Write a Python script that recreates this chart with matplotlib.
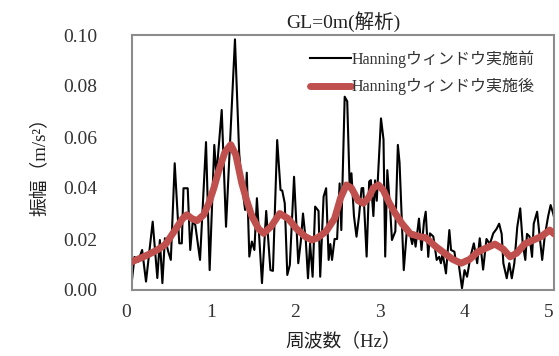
import matplotlib
matplotlib.use("Agg")
import matplotlib.pyplot as plt
import matplotlib.transforms as mtransforms

plt.rcParams['font.family'] = ['Liberation Serif', 'Noto Sans CJK JP']

# Spectrum before windowing (frequency in Hz, amplitude in m/s^2)
freq_raw = [0.00, 0.03, 0.07, 0.12, 0.166, 0.245, 0.30, 0.33, 0.36, 0.39,
            0.43, 0.46, 0.506, 0.56, 0.59, 0.61, 0.66, 0.69, 0.72, 0.75,
            0.806, 0.877, 0.92, 0.975, 1.00, 1.063, 1.114, 1.22, 1.27, 1.30,
            1.34, 1.36, 1.39, 1.42, 1.45, 1.48, 1.54, 1.59, 1.64, 1.67,
            1.72, 1.76, 1.78, 1.81, 1.84, 1.87, 1.92, 1.97, 2.00, 2.026,
            2.06, 2.085, 2.11, 2.14, 2.17, 2.21, 2.23, 2.27, 2.30, 2.33,
            2.35, 2.37, 2.40, 2.43, 2.46, 2.48, 2.52, 2.55, 2.58, 2.60,
            2.63, 2.66, 2.69, 2.72, 2.74, 2.78, 2.81, 2.83, 2.86, 2.88,
            2.90, 2.95, 2.98, 3.00, 3.025, 3.06, 3.08, 3.12, 3.15, 3.17,
            3.22, 3.26, 3.28, 3.32, 3.34, 3.36, 3.40, 3.43, 3.46, 3.48,
            3.51, 3.53, 3.57, 3.61, 3.64, 3.66, 3.68, 3.72, 3.76, 3.78,
            3.82, 3.84, 3.87, 3.91, 3.94, 3.97, 4.01, 4.05, 4.09, 4.12,
            4.16, 4.20, 4.22, 4.24, 4.28, 4.32, 4.35, 4.38, 4.40, 4.44,
            4.47, 4.50, 4.53, 4.565, 4.60, 4.63, 4.66, 4.68, 4.71, 4.74,
            4.76, 4.80, 4.83, 4.86, 4.89, 4.93, 4.96, 4.99, 5.02]
amp_raw = [0.004, 0.013, 0.011, 0.0157, 0.0033, 0.0268, 0.0047, 0.0196, 0.0027, 0.0203,
           0.015, 0.0118, 0.0497, 0.0183, 0.0183, 0.0399, 0.0399, 0.0157, 0.027, 0.0255,
           0.0118, 0.058, 0.0078, 0.0569, 0.045, 0.0706, 0.0248, 0.0983, 0.0536, 0.042,
           0.0314, 0.046, 0.0131, 0.019, 0.0157, 0.036, 0.0027, 0.031, 0.0078, 0.0075,
           0.0588, 0.0392, 0.039, 0.034, 0.0059, 0.0098, 0.0444, 0.0105, 0.019, 0.030,
           0.019, 0.0046, 0.0183, 0.0052, 0.0327, 0.031, 0.0052, 0.0366, 0.0399, 0.0118,
           0.018, 0.0118, 0.020, 0.020, 0.0418, 0.0235, 0.0758, 0.074, 0.0392, 0.0458,
           0.029, 0.0209, 0.029, 0.0399, 0.040, 0.0131, 0.0425, 0.0431, 0.029, 0.043,
           0.035, 0.0673, 0.059, 0.0131, 0.047, 0.031, 0.0196, 0.023, 0.0569, 0.050,
           0.0078, 0.0248, 0.024, 0.018, 0.0225, 0.017, 0.028, 0.0157, 0.027, 0.0307,
           0.013, 0.0222, 0.021, 0.0118, 0.013, 0.0105, 0.0144, 0.0065, 0.0235, 0.0157,
           0.015, 0.0105, 0.0105, 0.0007, 0.0078, 0.0052, 0.013, 0.0183, 0.0105, 0.0203,
           0.008, 0.020, 0.019, 0.018, 0.0222, 0.024, 0.026, 0.022, 0.0105, 0.0046,
           0.0105, 0.0046, 0.0105, 0.0248, 0.032, 0.018, 0.0118, 0.022, 0.021, 0.013,
           0.026, 0.0307, 0.021, 0.0118, 0.021, 0.0288, 0.0333, 0.030, 0.026]

# Spectrum after Hanning windowing
freq_win = [0.00, 0.10, 0.20, 0.30, 0.40, 0.50, 0.60, 0.65, 0.71, 0.77,
            0.85, 0.91, 0.97, 1.03, 1.10, 1.17, 1.23, 1.30, 1.36, 1.42,
            1.50, 1.56, 1.65, 1.75, 1.85, 1.95, 2.05, 2.13, 2.20, 2.30,
            2.40, 2.47, 2.54, 2.60, 2.68, 2.74, 2.80, 2.86, 2.92, 2.98,
            3.05, 3.12, 3.20, 3.30, 3.40, 3.48, 3.60, 3.70, 3.80, 3.90,
            4.00, 4.10, 4.20, 4.30, 4.40, 4.48, 4.56, 4.65, 4.75, 4.85,
            4.95, 5.00]
amp_win = [0.0111, 0.0125, 0.014, 0.0157, 0.018, 0.023, 0.028, 0.0295, 0.028, 0.0272,
           0.0295, 0.034, 0.040, 0.047, 0.054, 0.057, 0.053, 0.042, 0.035, 0.029,
           0.024, 0.0222, 0.025, 0.030, 0.028, 0.024, 0.021, 0.0196, 0.0205, 0.023,
           0.028, 0.036, 0.0412, 0.040, 0.035, 0.034, 0.036, 0.040, 0.0412, 0.039,
           0.034, 0.030, 0.026, 0.022, 0.021, 0.0205, 0.017, 0.0145, 0.012, 0.0105,
           0.012, 0.015, 0.0165, 0.018, 0.016, 0.013, 0.0145, 0.018, 0.0195, 0.021,
           0.0235, 0.022]

x_ticks = [0, 1, 2, 3, 4, 5]
y_ticks = [0.00, 0.02, 0.04, 0.06, 0.08, 0.10]
y_tick_labels = ["0.00", "0.02", "0.04", "0.06", "0.08", "0.10"]

fig = plt.figure(figsize=(5.59, 3.56), dpi=100)
ax = fig.add_axes([132 / 559, 1 - 290 / 356, 422 / 559, 255 / 356])

ax.plot(freq_raw, amp_raw, color='black', lw=1.5, label='Hanningウィンドウ実施前', zorder=2)
ax.plot(freq_win, amp_win, color='#C0504D', lw=5, solid_capstyle='round',
        label='Hanningウィンドウ実施後', zorder=3)

ax.set_xlim(0, 5)
ax.set_ylim(0, 0.10)
ax.set_xticks(x_ticks)
ax.set_yticks(y_ticks)
ax.set_yticklabels(y_tick_labels)
ax.tick_params(axis='both', length=0, labelsize=14, colors='#333333')
ax.tick_params(axis='x', pad=10)
ax.tick_params(axis='y', pad=25)

shift = mtransforms.ScaledTranslation(-4 / 72, 0, fig.dpi_scale_trans)
for lbl in ax.get_xticklabels():
    lbl.set_transform(lbl.get_transform() + shift)

for s in ax.spines.values():
    s.set_color('#8c8c8c')
    s.set_linewidth(1.5)

ax.set_title('GL=0m(解析)', fontsize=14, pad=5, color='#222222')
ax.set_xlabel('周波数（Hz）', fontsize=13.5, labelpad=8, color='#222222')
ax.set_ylabel('振幅（m/s²）', fontsize=13.5, labelpad=10, color='#222222')

leg = ax.legend(loc='upper left', bbox_to_anchor=(0.385, 1.0), frameon=False,
                fontsize=11.5, handlelength=2.6, handletextpad=0.05,
                labelspacing=0.65, borderaxespad=0.55)
for t in leg.get_texts():
    t.set_color('#333333')

fig.savefig('out.png', dpi=100)
